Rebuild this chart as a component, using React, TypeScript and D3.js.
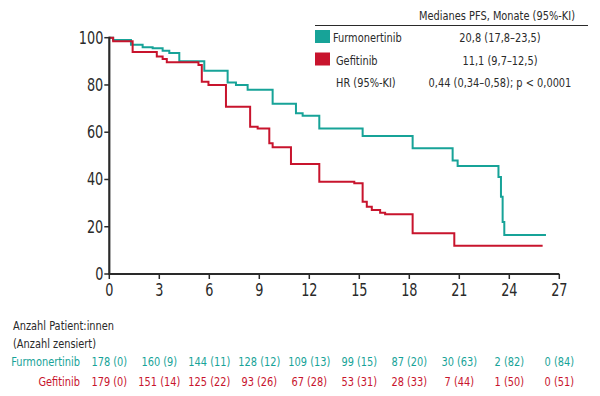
import * as d3 from "d3";

const W = 600;
const H = 396;
const FONT = "'Liberation Sans Narrow', 'DejaVu Sans Condensed', 'Noto Sans', sans-serif";
const TEAL = "#17a398";
const RED = "#c8142d";
const INK = "#2a2a2a";
const SX = 0.84; // squeeze text to mimic the condensed face

// Kaplan-Meier steps, [month, % progression-free]
const furmoSteps: [number, number][] = [
  [0, 100], [0.23, 99], [1.3, 97], [2.0, 96], [2.6, 95.5], [3.2, 94.5],
  [3.6, 93.5], [4.2, 90], [5.7, 86], [7.1, 81], [7.6, 80], [8.3, 78],
  [9.8, 72], [11.2, 68], [11.6, 67], [12.6, 61.6], [15.2, 58.4],
  [18.2, 53.2], [20.6, 48], [20.9, 45.7], [23.35, 41], [23.5, 32.7],
  [23.6, 22], [23.7, 16.5], [26.2, 16.5],
];
const gefiSteps: [number, number][] = [
  [0, 100], [0.23, 98.5], [1.4, 94], [2.85, 92], [3.2, 91], [3.45, 89.6],
  [5.35, 88.5], [5.55, 81.4], [5.95, 80], [7.0, 70.8], [8.45, 62.3],
  [8.9, 61.6], [9.6, 55.3], [9.8, 53.6], [10.9, 46.5], [12.6, 39],
  [14.7, 38.4], [15.2, 30.6], [15.45, 28.5], [15.75, 27.1], [16.25, 25.9],
  [16.55, 25.3], [18.2, 17.2], [20.7, 12], [26.0, 12],
];

const xTicks = [0, 3, 6, 9, 12, 15, 18, 21, 24, 27];
const yTicks = [0, 20, 40, 60, 80, 100];

const furmoAtRisk = ["178 (0)", "160 (9)", "144 (11)", "128 (12)", "109 (13)", "99 (15)", "87 (20)", "30 (63)", "2 (82)", "0 (84)"];
const gefiAtRisk = ["179 (0)", "151 (14)", "125 (22)", "93 (26)", "67 (28)", "53 (31)", "28 (33)", "7 (44)", "1 (50)", "0 (51)"];

const legendRows = [
  { name: "Furmonertinib", value: "20,8 (17,8–23,5)", color: TEAL },
  { name: "Gefitinib", value: "11,1 (9,7–12,5)", color: RED },
];

function T({
  x,
  y,
  anchor = "start",
  size = 13,
  fill = INK,
  children,
}: {
  x: number;
  y: number;
  anchor?: string;
  size?: number;
  fill?: string;
  children: React.ReactNode;
}) {
  return (
    <text
      transform={`translate(${x},${y}) scale(${SX},1)`}
      textAnchor={anchor}
      fontSize={size}
      fill={fill}
    >
      {children}
    </text>
  );
}

export default function App() {
  const x = d3.scaleLinear().domain([0, 27]).range([109.3, 559.3]);
  const y = d3.scaleLinear().domain([0, 100]).range([274, 37.7]);
  const line = d3
    .line<[number, number]>()
    .x((d) => x(d[0]))
    .y((d) => y(d[1]))
    .curve(d3.curveStepAfter);

  return (
    <svg
      width={W}
      height={H}
      style={{ position: "absolute", left: 0, top: 0, background: "#fff" }}
      fontFamily={FONT}
    >
      {/* curves */}
      <path d={line(furmoSteps) ?? ""} fill="none" stroke={TEAL} strokeWidth={2} />
      <path d={line(gefiSteps) ?? ""} fill="none" stroke={RED} strokeWidth={2} />

      {/* y axis */}
      <line x1={x(0)} x2={x(0)} y1={y(100) - 1} y2={y(0)} stroke={INK} strokeWidth={2.2} />
      {yTicks.map((t) => (
        <g key={t}>
          <line x1={x(0) - 5} x2={x(0)} y1={y(t)} y2={y(t)} stroke={INK} strokeWidth={1.5} />
          <T x={x(0) - 6} y={y(t) + 6} anchor="end" size={17}>
            {t}
          </T>
        </g>
      ))}

      {/* x axis */}
      <line x1={x(0) - 1} x2={x(27)} y1={y(0)} y2={y(0)} stroke={INK} strokeWidth={2.2} />
      {xTicks.map((t) => (
        <g key={t}>
          <line x1={x(t)} x2={x(t)} y1={y(0)} y2={y(0) + 5} stroke={INK} strokeWidth={1.5} />
          <T x={x(t)} y={y(0) + 22} anchor="middle" size={17}>
            {t}
          </T>
        </g>
      ))}

      {/* legend */}
      <T x={497} y={20} anchor="middle">
        Medianes PFS, Monate (95%-KI)
      </T>
      <line x1={315} x2={588} y1={25.5} y2={25.5} stroke={INK} strokeWidth={1} />
      {legendRows.map((r, i) => (
        <g key={r.name}>
          <rect x={315} y={30 + i * 22.5} width={15} height={13} fill={r.color} />
          <T x={333 + i * 3} y={42 + i * 23}>
            {r.name}
          </T>
          <T x={500} y={42 + i * 23} anchor="middle">
            {r.value}
          </T>
        </g>
      ))}
      <T x={336} y={87}>
        HR (95%-KI)
      </T>
      <T x={500} y={87} anchor="middle">
        0,44 (0,34–0,58); p &lt; 0,0001
      </T>

      {/* number at risk */}
      <T x={13} y={330}>
        Anzahl Patient:innen
      </T>
      <T x={13} y={348}>
        (Anzahl zensiert)
      </T>
      <T x={80} y={366} anchor="end" fill={TEAL}>
        Furmonertinib
      </T>
      <T x={80} y={386} anchor="end" fill={RED}>
        Gefitinib
      </T>
      {xTicks.map((t, i) => (
        <g key={t}>
          <T x={x(t)} y={366} anchor="middle" fill={TEAL}>
            {furmoAtRisk[i]}
          </T>
          <T x={x(t)} y={386} anchor="middle" fill={RED}>
            {gefiAtRisk[i]}
          </T>
        </g>
      ))}
    </svg>
  );
}
